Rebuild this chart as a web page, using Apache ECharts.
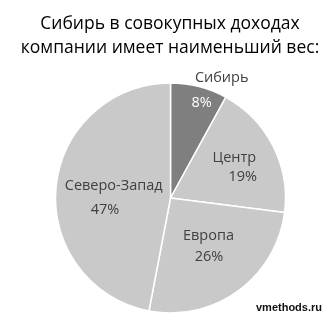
<!DOCTYPE html>
<html>
<head>
<meta charset="utf-8">
<script src="https://cdn.jsdelivr.net/npm/echarts@6/dist/echarts.min.js"></script>
<style>
html,body{margin:0;padding:0;background:#fff;}
#chart{width:328px;height:323px;}
</style>
</head>
<body>
<div id="chart"></div>
<script>
// ---- data ----
const titleLines = ['Сибирь в совокупных доходах', 'компании имеет наименьший вес:'];
const regions = ['Сибирь', 'Центр', 'Европа', 'Северо-Запад'];
const shares = [8, 19, 26, 47];
const credit = 'vmethods.ru';

// ---- style / layout ----
const sliceColors = ['#7f7f7f', '#c9c9c9', '#c9c9c9', '#c9c9c9'];
const pctColors = ['#ffffff', '#404040', '#404040', '#404040'];
const nameColors = ['#404040', '#404040', '#404040', '#404040'];
// label block anchor (name line centre x, block middle y)
const labelAnchor = [[221.7, 90.5], [234.3, 167.2], [208.5, 246.7], [113.7, 198]];
// horizontal shift of percent line relative to name line
const pctShift = [-20, 8.5, 0.5, -8.7];
const lineH = [25, 19, 21, 24];
const FONT = '"Open Sans", "Noto Sans", sans-serif';

const chart = echarts.init(document.getElementById('chart'), null, {renderer: 'canvas'});

const data = regions.map((name, i) => {
  const s = pctShift[i];
  const pad = s >= 0 ? [0, 0, 0, 2 * s] : [0, -2 * s, 0, 0];
  return {
    name: name,
    value: shares[i],
    itemStyle: {color: sliceColors[i]},
    label: {
      formatter: '{n|{b}}\n{p|{c}%}',
      rich: {
        n: {color: nameColors[i], fontSize: 14.5, fontFamily: FONT, lineHeight: lineH[i], align: 'center'},
        p: {color: pctColors[i], fontSize: 14.5, fontFamily: FONT, lineHeight: lineH[i], align: 'center', padding: pad}
      }
    }
  };
});

chart.setOption({
  animation: false,
  backgroundColor: '#ffffff',
  title: [{
    text: titleLines.join('\n'),
    left: 165,
    top: 7,
    textAlign: 'center',
    textStyle: {fontFamily: FONT, fontSize: 17.5, fontWeight: 'normal', color: '#000000', lineHeight: 24}
  }, {
    text: credit,
    left: 251,
    top: 297,
    textStyle: {fontFamily: '"Liberation Sans", Arial, sans-serif', fontSize: 11, fontWeight: 'bold', color: '#111111'}
  }],
  series: [{
    type: 'pie',
    center: [170.5, 198],
    radius: [0, 115],
    startAngle: 90,
    clockwise: true,
    data: data,
    itemStyle: {borderColor: '#ffffff', borderWidth: 1.5},
    label: {show: true, position: 'inside'},
    labelLine: {show: false},
    labelLayout: function (params) {
      const a = labelAnchor[params.dataIndex];
      return {x: a[0], y: a[1], align: 'center', verticalAlign: 'middle'};
    },
    emphasis: {disabled: true}
  }]
});
</script>
</body>
</html>
